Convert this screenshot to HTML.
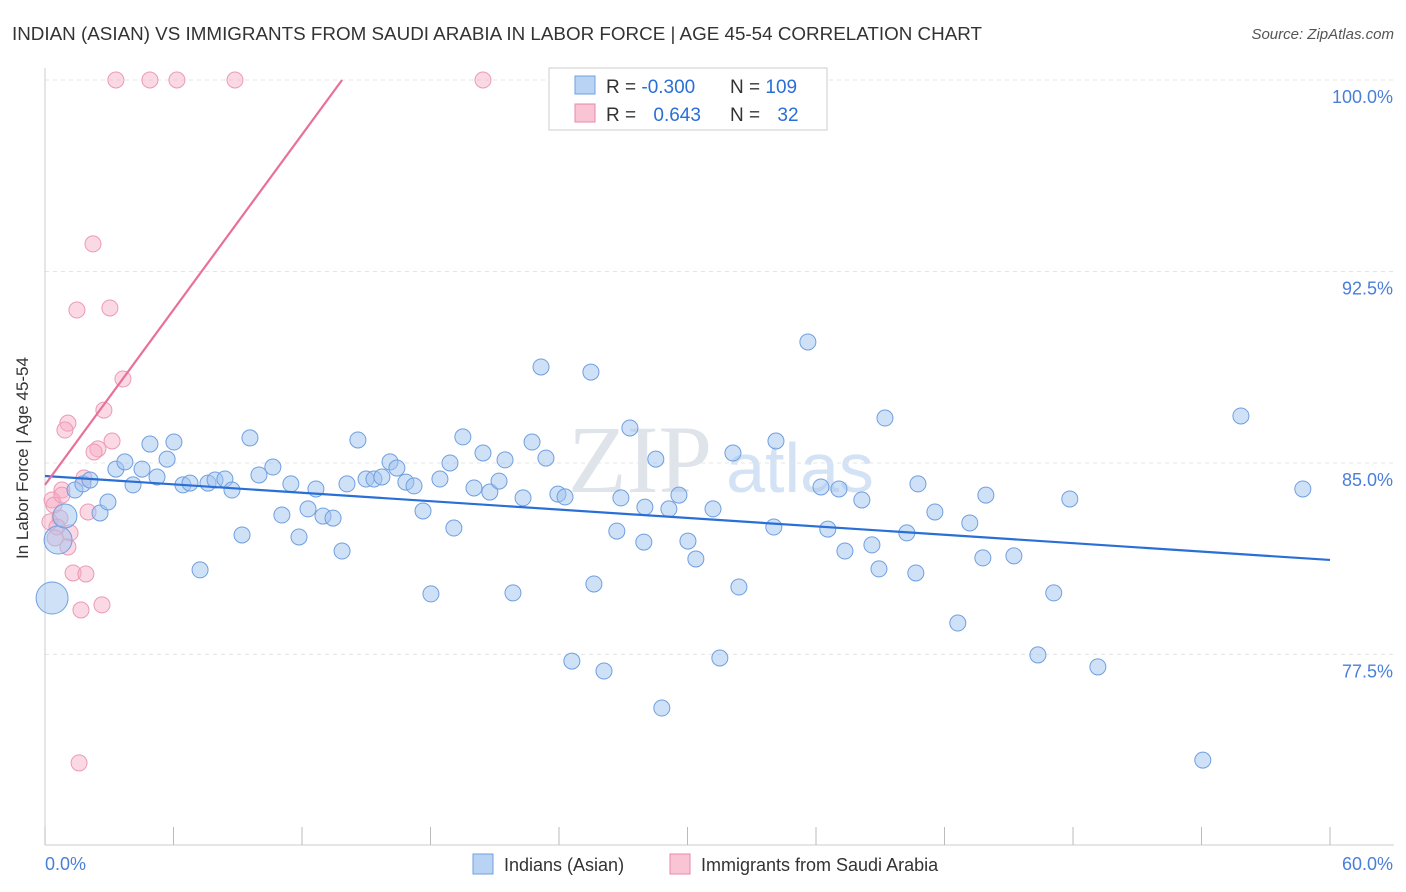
<!DOCTYPE html>
<html><head><meta charset="utf-8"><style>
body{margin:0;background:#fff;font-family:"Liberation Sans",sans-serif}
svg{display:block}
</style></head><body>
<svg id="c" width="1406" height="892" xmlns="http://www.w3.org/2000/svg" font-family="Liberation Sans, sans-serif">
<text x="12" y="40" font-size="18" fill="#333" textLength="970" lengthAdjust="spacingAndGlyphs">INDIAN (ASIAN) VS IMMIGRANTS FROM SAUDI ARABIA IN LABOR FORCE | AGE 45-54 CORRELATION CHART</text>
<text x="1394" y="39" font-size="15" fill="#555" font-style="italic" text-anchor="end">Source: ZipAtlas.com</text>
<text x="640" y="492" font-size="96" fill="#dfe3ea" font-family="Liberation Serif, serif" text-anchor="middle">ZIP</text>
<text x="800" y="492" font-size="70" fill="#d4e2f5" text-anchor="middle">atlas</text>
<g id="grid"></g><g id="axes"></g><g id="pts"></g><g id="lines"></g>
<text x="28" y="458" font-size="17" fill="#333" transform="rotate(-90 28 458)" text-anchor="middle">In Labor Force | Age 45-54</text>
<g>
<rect x="549" y="68" width="278" height="62" fill="#fff" stroke="#ccc"/>
<rect x="575" y="76" width="20" height="18" fill="#b9d3f5" stroke="#6f9fe0"/>
<rect x="575" y="104" width="20" height="18" fill="#f9c4d4" stroke="#e88aa8"/>
<text x="606" y="93" font-size="19" fill="#333">R = <tspan fill="#2a6fd6">-0.300</tspan></text>
<text x="730" y="93" font-size="19" fill="#333">N = <tspan fill="#2a6fd6">109</tspan></text>
<text x="606" y="121" font-size="19" fill="#333">R = <tspan fill="#2a6fd6" dx="12">0.643</tspan></text>
<text x="730" y="121" font-size="19" fill="#333">N = <tspan fill="#2a6fd6" dx="12">32</tspan></text>
</g>
<g>
<rect x="473" y="854" width="20" height="20" fill="#b9d3f5" stroke="#6f9fe0"/>
<text x="504" y="871" font-size="18" fill="#333">Indians (Asian)</text>
<rect x="670" y="854" width="20" height="20" fill="#f9c4d4" stroke="#e88aa8"/>
<text x="701" y="871" font-size="18" fill="#333">Immigrants from Saudi Arabia</text>
</g>
</svg>
<script>
const blueX=[0.33,0.61,0.93,1.4,1.77,2.1,2.57,2.94,3.31,3.73,4.11,4.53,4.9,5.23,5.7,6.02,6.44,6.77,7.24,7.61,7.94,8.4,8.73,9.2,9.57,9.99,10.64,11.06,11.48,11.86,12.28,12.65,12.98,13.45,13.87,14.1,14.61,14.99,15.36,15.73,16.11,16.43,16.85,17.23,17.65,18.02,18.44,18.91,19.09,19.51,20.03,20.45,20.77,21.2,21.48,21.85,22.32,22.74,23.16,23.39,23.95,24.28,24.6,25.49,25.63,26.1,26.7,26.89,27.31,27.96,28.01,28.52,28.8,29.13,29.6,30.02,30.39,31.19,31.51,32.12,32.4,34.03,34.13,35.62,36.23,36.55,37.07,37.35,38.14,38.61,38.94,39.22,40.24,40.66,40.76,41.55,42.62,43.18,43.79,43.93,45.24,46.36,47.1,47.85,49.16,54.06,55.84,58.73];
const blueY=[79.71,81.98,82.92,83.94,84.18,84.33,83.04,83.47,84.76,85.04,84.14,84.76,85.74,84.45,85.15,85.82,84.14,84.21,80.81,84.21,84.33,84.37,83.94,82.18,85.98,84.53,84.84,82.96,84.18,82.1,83.2,83.98,82.92,82.84,81.55,84.18,85.9,84.37,84.37,84.45,85.04,84.8,84.25,84.1,83.12,79.87,84.37,85.0,82.45,86.02,84.02,85.39,83.86,84.29,85.12,79.91,83.63,85.82,88.76,85.19,83.78,83.67,77.24,88.56,80.26,76.85,82.33,83.63,86.37,81.9,83.27,85.15,75.4,83.2,83.74,81.94,81.24,83.2,77.36,85.39,80.14,82.49,85.86,89.74,84.06,82.41,83.98,81.55,83.55,81.79,80.85,86.76,82.26,80.69,84.18,83.08,78.73,82.65,81.28,83.74,81.36,77.48,79.91,83.59,77.01,73.36,86.84,83.98];
const blueSize=[16,14,12];
const pinkX=[3.31,4.9,6.16,8.87,20.45,2.24,1.49,3.03,3.64,1.07,0.93,2.75,3.13,2.47,2.29,1.82,0.79,0.33,0.42,2.01,0.7,0.23,0.56,1.17,0.47,1.07,1.31,1.91,2.66,1.68,1.59,0.79];
const pinkY=[100,100,100,100,100,93.58,90.99,91.07,88.29,86.56,86.29,87.07,85.86,85.55,85.43,84.41,83.94,83.55,83.35,83.08,82.84,82.69,82.49,82.26,82.06,81.71,80.69,80.65,79.44,79.24,73.25,83.74];
const blueTrendX=[0,60], blueTrendY=[84.49,81.2];
const pinkTrendX=[0,13.87], pinkTrendY=[84.14,100];
const yTicks=[100,92.5,85,77.5];
const yTickLabels=["100.0%","92.5%","85.0%","77.5%"];
const xTicks=[0,6,12,18,24,30,36,42,48,54,60];

const NS="http://www.w3.org/2000/svg";
const sx=v=>45+v*21.417, sy=v=>80+(100-v)*25.53;
function mk(tag,attrs,parent){const e=document.createElementNS(NS,tag);for(const k in attrs)e.setAttribute(k,attrs[k]);parent.appendChild(e);return e;}
const grid=document.getElementById('grid'),axes=document.getElementById('axes'),pts=document.getElementById('pts'),lines=document.getElementById('lines');
yTicks.forEach((t,i)=>{
 const l=mk('line',{x1:45,x2:1394,y1:sy(t),y2:sy(t),stroke:'#e4e4e4','stroke-dasharray':'4,4'},grid);
 
 
 const tx=mk('text',{x:1393,y:sy(t)+23,'font-size':18,fill:'#4a7fd8','text-anchor':'end'},axes);
 tx.textContent=yTickLabels[i];
 
 
});
const xa=mk('line',{x1:45,x2:1394,y1:845,y2:845,stroke:'#ccc'},axes);


const ya=mk('line',{x1:45,x2:45,y1:68,y2:845,stroke:'#ccc'},axes);


xTicks.forEach(t=>{
 const l=mk('line',{x1:sx(t),x2:sx(t),y1:827,y2:845,stroke:'#bbb'},axes);
 
 
});
const x0=mk('text',{x:45,y:870,'font-size':18,fill:'#4a7fd8'},axes);x0.textContent="0.0%";


const x1=mk('text',{x:1393,y:870,'font-size':18,fill:'#4a7fd8','text-anchor':'end'},axes);x1.textContent="60.0%";


pinkX.forEach((v,i)=>{
 const c=mk('circle',{cx:sx(v),cy:sy(pinkY[i]),r:8,fill:'rgba(246,170,196,0.45)',stroke:'#eb9ab5','stroke-width':1},pts);
 
 
});
blueX.forEach((v,i)=>{
 const c=mk('circle',{cx:sx(v),cy:sy(blueY[i]),r:blueSize[i]||8,fill:'rgba(160,195,240,0.5)',stroke:'#6f9fe0','stroke-width':1},pts);
 
 
});
const bl=mk('line',{x1:sx(blueTrendX[0]),y1:sy(blueTrendY[0]),x2:sx(blueTrendX[1]),y2:sy(blueTrendY[1]),stroke:'#2a6fd6','stroke-width':2.2},lines);


const pl=mk('line',{x1:sx(pinkTrendX[0]),y1:sy(pinkTrendY[0]),x2:sx(pinkTrendX[1]),y2:sy(pinkTrendY[1]),stroke:'#e8709a','stroke-width':2.2},lines);


</script>
</body></html>
